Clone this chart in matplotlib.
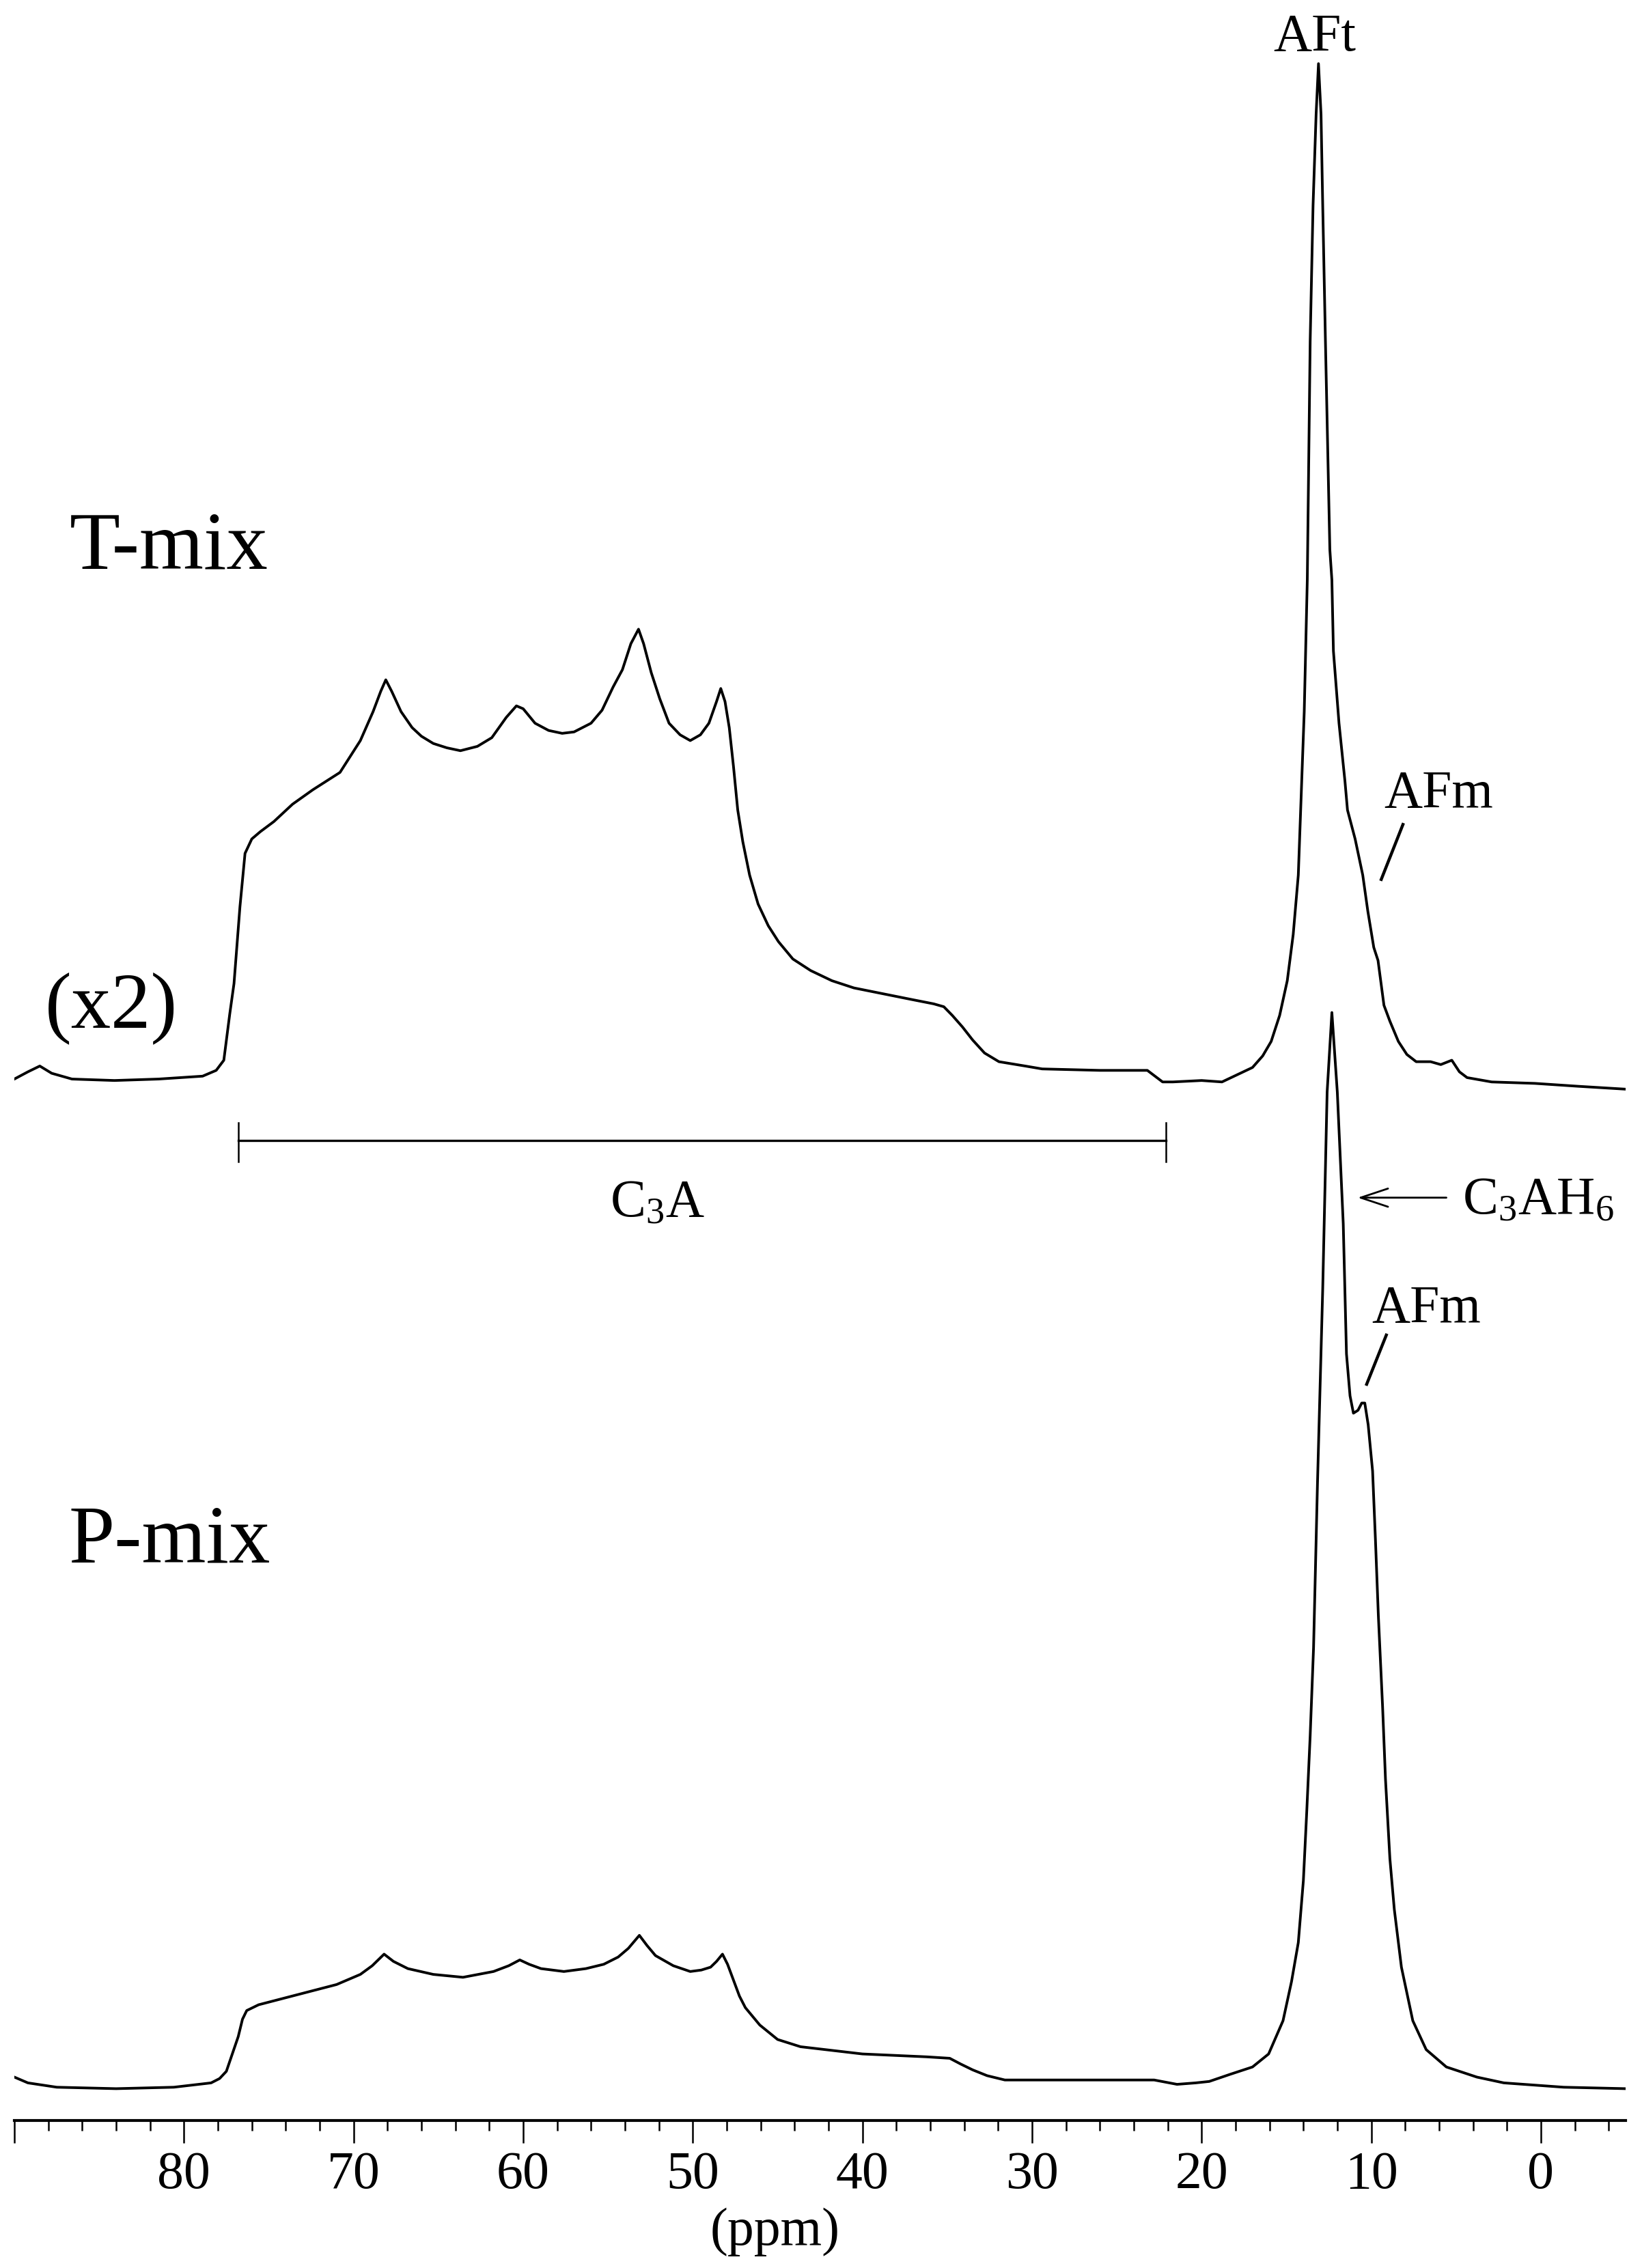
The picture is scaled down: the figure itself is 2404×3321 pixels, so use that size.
'''
27Al MAS NMR spectra of T-mix and P-mix
'''
import matplotlib
matplotlib.use('Agg')
import matplotlib.pyplot as plt
import numpy as np
from matplotlib.ticker import MultipleLocator

plt.rcParams['font.family'] = 'Liberation Serif'
plt.rcParams['mathtext.fontset'] = 'custom'
plt.rcParams['mathtext.rm'] = 'Liberation Serif'
plt.rcParams['mathtext.it'] = 'Liberation Serif:italic'

# T-mix spectrum (shown x2), chemical shift (ppm) and intensity (a.u.)
tmix_ppm = [90.0, 89.2, 88.5, 87.8, 86.6, 84.1, 81.5, 78.9, 78.1, 77.65,
            77.3, 77.05, 76.7, 76.4, 76.0, 75.5, 74.7, 73.6, 72.4, 70.8,
            69.6, 68.85, 68.4, 68.1, 67.75, 67.2, 66.55, 66.0, 65.3, 64.5,
            63.7, 62.7, 61.85, 61.0, 60.4, 60.0, 59.3, 58.5, 57.7, 57.0,
            56.0, 55.35, 54.7, 54.15, 53.65, 53.2, 52.9, 52.45, 51.95, 51.4,
            50.75, 50.15, 49.55, 49.05, 48.6, 48.35, 48.1, 47.85, 47.6, 47.35,
            47.05, 46.65, 46.15, 45.55, 44.95, 44.1, 43.05, 41.8, 40.5, 38.8,
            37.1, 35.8, 35.2, 34.7, 34.1, 33.5, 32.8, 31.95, 30.4, 29.4,
            26.0, 23.2, 22.3, 21.7, 20.0, 18.8, 17.0, 16.4, 15.9, 15.4,
            14.95, 14.6, 14.3, 13.95, 13.77, 13.6, 13.43, 13.25, 13.11, 12.96,
            12.86, 12.7, 12.44, 12.32, 12.23, 11.9, 11.55, 11.4, 10.95, 10.5,
            10.2, 9.85, 9.6, 9.25, 8.9, 8.4, 7.9, 7.35, 6.5, 5.9,
            5.25, 4.8, 4.35, 2.9, 0.35, -2.2, -5.0]
tmix_int = [0, 5, 9, 4, 0, -1, 0, 2, 6, 13,
            45, 66, 119, 156, 166, 171, 178, 190, 200, 212,
            234, 254, 268, 276, 268, 254, 243, 237, 232, 229,
            227, 230, 236, 250, 258, 256, 246, 241, 239, 240,
            246, 255, 271, 283, 301, 311, 301, 281, 263, 246,
            238, 234, 238, 246, 261, 270, 261, 243, 216, 186,
            164, 141, 121, 106, 95, 83, 75, 68, 63, 59,
            55, 52, 50, 44, 36, 27, 18, 12, 9, 7,
            6, 6, -2, -2, -1, -2, 8, 16, 26, 44,
            68, 100, 141, 254, 345, 510, 604, 667, 702, 667,
            604, 510, 366, 345, 296, 246, 206, 186, 166, 141,
            116, 91, 82, 51, 40, 26, 17, 12, 12, 10,
            13, 5, 1, -2, -3, -5, -7]

# P-mix spectrum
pmix_ppm = [90.0, 89.2, 87.5, 84.0, 80.6, 78.4, 77.9, 77.5, 77.15, 76.8,
            76.55, 76.3, 75.6, 73.3, 71.0, 69.6, 68.9, 68.2, 67.65, 66.8,
            65.3, 63.55, 61.75, 60.85, 60.2, 59.65, 58.95, 57.6, 56.3, 55.25,
            54.4, 53.8, 53.15, 52.7, 52.2, 51.15, 50.15, 49.5, 48.95, 48.6,
            48.25, 47.95, 47.6, 47.25, 46.9, 46.05, 45.0, 43.65, 40.0, 36.2,
            34.85, 34.2, 33.5, 32.65, 31.6, 26.8, 22.8, 21.45, 20.35, 19.55,
            18.3, 17.0, 16.05, 15.2, 14.7, 14.3, 14.0, 13.8, 13.6, 13.4,
            13.17, 12.86, 12.6, 12.32, 12.0, 11.65, 11.46, 11.25, 11.05, 10.78,
            10.56, 10.38, 10.18, 9.92, 9.75, 9.58, 9.33, 9.16, 8.9, 8.64,
            8.22, 7.55, 6.76, 5.57, 3.77, 2.18, -1.35, -5.0]
pmix_int = [4, 0, -3, -4, -3, 0, 3, 8, 20, 32,
            44, 50, 54, 61, 68, 75, 81, 89, 84, 79,
            75, 73, 77, 81, 85, 82, 79, 77, 79, 82,
            87, 93, 102, 95, 88, 81, 77, 78, 80, 84,
            89, 82, 71, 60, 52, 40, 30, 25, 20, 18,
            17, 13, 9, 5, 2, 2, 2, -1, 0, 1,
            6, 11, 20, 43, 70, 97, 140, 188, 240, 301,
            414, 549, 685, 740, 685, 594, 504, 475, 463, 465,
            470, 470, 455, 423, 375, 323, 260, 210, 155, 120,
            80, 43, 23, 11, 4, 0, -3, -4]

major_ticks = [90, 80, 70, 60, 50, 40, 30, 20, 10, 0]
tick_labels = ['', '80', '70', '60', '50', '40', '30', '20', '10', '0']

# vertical offsets of the stacked spectra
T_OFFSET = 720
P_OFFSET = 26

fig = plt.figure(figsize=(12.02, 16.605), dpi=200)
ax = fig.add_axes([0.00874, 0.06504, 0.9813, 0.93496])

ax.plot(tmix_ppm, np.array(tmix_int) + T_OFFSET, color='black', lw=1.4)
ax.plot(pmix_ppm, np.array(pmix_int) + P_OFFSET, color='black', lw=1.4)

ax.set_xlim(90, -5)
ax.set_ylim(0, 1466)

for s in ['left', 'right', 'top']:
    ax.spines[s].set_visible(False)
ax.spines['bottom'].set_linewidth(1.5)
ax.set_yticks([])

ax.set_xticks(major_ticks)
ax.set_xticklabels(tick_labels)
ax.xaxis.set_minor_locator(MultipleLocator(2))
ax.tick_params(axis='x', which='major', direction='out', length=12, width=0.9,
               labelsize=28, pad=4)
ax.tick_params(axis='x', which='minor', direction='out', length=5.5, width=0.9)

ax.set_xlabel('(ppm)', fontsize=28)
ax.xaxis.set_label_coords(0.472, -0.041)

# sample labels
ax.text(86.73, 1073, 'T-mix', fontsize=43.5, ha='left', va='baseline')
ax.text(88.2, 756, '(x2)', fontsize=42, ha='left', va='baseline')
ax.text(86.8, 386, 'P-mix', fontsize=43.5, ha='left', va='baseline')

# peak assignments
ax.text(13.34, 1431, 'AFt', fontsize=28, ha='center', va='baseline')
ax.text(9.24, 908, 'AFm', fontsize=28, ha='left', va='baseline')
ax.plot([8.13, 9.41], [896, 858], color='black', lw=1.6)

ax.text(9.97, 552, 'AFm', fontsize=28, ha='left', va='baseline')
ax.plot([9.11, 10.27], [543, 509], color='black', lw=1.6)

# C3A range bracket
ax.plot([76.8, 22.1], [677.5, 677.5], color='black', lw=1.2)
ax.plot([76.8, 76.8], [663, 690], color='black', lw=0.9)
ax.plot([22.1, 22.1], [663, 690], color='black', lw=0.9)
ax.text(52.1, 625, r'C$_3$A', fontsize=28, ha='center', va='baseline')

ax.annotate('', xy=(10.8, 638), xytext=(5.57, 638),
            arrowprops=dict(arrowstyle='->,head_length=0.72,head_width=0.24',
                            lw=1.0, color='black', mutation_scale=20,
                            shrinkA=0, shrinkB=0))
ax.text(4.63, 627, r'C$_3$AH$_6$', fontsize=28, ha='left', va='baseline')

fig.savefig('out.png', dpi=200)
